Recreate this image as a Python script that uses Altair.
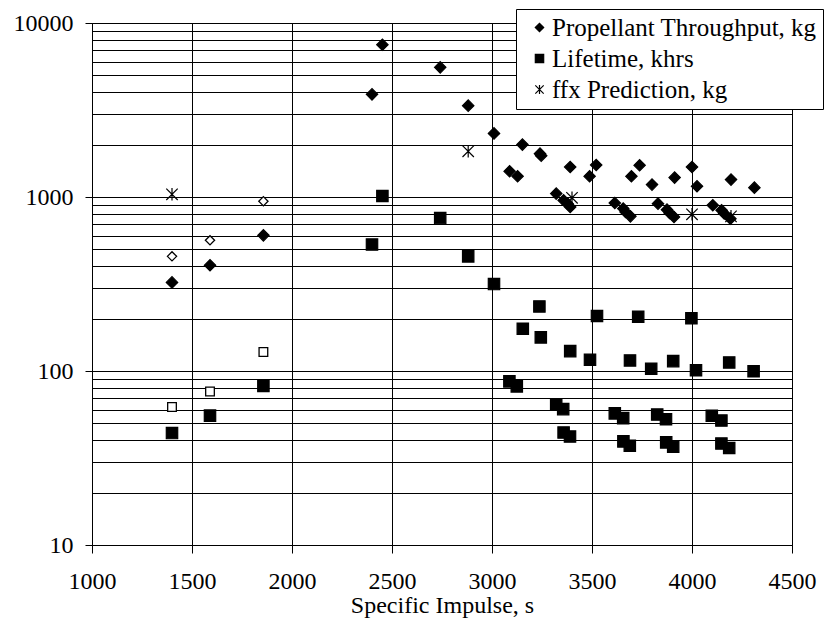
import altair as alt
import pandas as pd

SERIES = ["Propellant Throughput, kg", "Lifetime, khrs", "ffx Prediction, kg"]

# Propellant throughput, kg (filled diamonds)
prop_isp = [1400, 1590, 1857, 2400, 2452, 2741, 2881, 3010, 3088, 3128, 3152, 3240, 3246,
            3321, 3358, 3378, 3391, 3391, 3488, 3521, 3614, 3656, 3668, 3692, 3697, 3738,
            3800, 3830, 3875, 3888, 3910, 3913, 4000, 4025, 4104, 4148, 4161, 4192, 4195, 4312]
prop_kg = [323, 405, 602, 3890, 7500, 5560, 3350, 2320, 1405, 1315, 2000, 1775, 1728,
           1046, 957, 916, 876, 1487, 1315, 1527, 924, 858, 820, 774, 1315, 1521,
           1178, 916, 846, 810, 768, 1293, 1487, 1152, 896, 839, 804, 751, 1259, 1132]

# Lifetime, khrs (filled squares)
life_isp = [1400, 1590, 1857, 2400, 2452, 2741, 2881, 3010, 3087, 3124, 3154, 3237, 3244,
            3321, 3356, 3358, 3390, 3391, 3490, 3525, 3614, 3656, 3657, 3689, 3690, 3731,
            3796, 3826, 3870, 3871, 3906, 3906, 3997, 4020, 4099, 4147, 4147, 4186, 4186, 4308]
life_khr = [44, 55.4, 82, 533, 1013, 757, 456, 316, 87.2, 81.6, 175, 235, 156,
            64.3, 60.4, 44.3, 42.0, 130, 116, 207, 57.1, 53.6, 39.4, 37.2, 115, 205,
            103, 56.2, 52.8, 38.9, 36.7, 114, 201, 101, 55.3, 51.9, 38.3, 36.1, 112, 99.6]

# ffx prediction, kg (asterisks)
ffx_isp = [1400, 2881, 3400, 4000, 4195]
ffx_kg = [1036, 1830, 990, 795, 774]

# open markers (no legend entry)
open_isp = [1400, 1590, 1857]
open_prop_kg = [456, 564, 945]
open_life_khr = [62.1, 76.2, 128.6]

x_ticks = [1000, 1500, 2000, 2500, 3000, 3500, 4000, 4500]
y_grid = [m * 10 ** e for e in range(1, 4) for m in range(1, 10)] + [10000]

main = pd.concat([
    pd.DataFrame({"isp": prop_isp, "val": prop_kg, "series": SERIES[0]}),
    pd.DataFrame({"isp": life_isp, "val": life_khr, "series": SERIES[1]}),
    pd.DataFrame({"isp": ffx_isp, "val": ffx_kg, "series": SERIES[2]}),
], ignore_index=True)
open_d = pd.DataFrame({"isp": open_isp, "val": open_prop_kg})
open_s = pd.DataFrame({"isp": open_isp, "val": open_life_khr})

FONT = "Liberation Serif"
ASTER = "M-1,-1L1,1M1,-1L-1,1M0,-1.1L0,1.1"

xenc = alt.X("isp:Q",
             scale=alt.Scale(domain=[1000, 4500], nice=False, zero=False),
             axis=alt.Axis(values=x_ticks, title="Specific Impulse, s", format="d",
                           tickSize=8, tickColor="black", domainColor="black",
                           gridColor="black", gridWidth=1, gridOpacity=1,
                           labelFlush=False, labelBaseline="alphabetic", labelPadding=35,
                           titleBaseline="alphabetic", titleY=67))
yenc = alt.Y("val:Q",
             scale=alt.Scale(type="log", domain=[10, 10000], nice=False),
             axis=alt.Axis(values=y_grid, title=None, format="d", labelFlush=False,
                           labelExpr="indexof([10,100,1000,10000], datum.value) >= 0 ? datum.label : ''",
                           tickOpacity={"condition": {"test": "indexof([10,100,1000,10000], datum.value) >= 0", "value": 1}, "value": 0},
                           tickSize=7, tickColor="black", domainColor="black",
                           gridColor="black", gridWidth=1, gridOpacity=1,
                           labelPadding=12))

leg = alt.Legend(title=None, orient="none", legendX=424, legendY=-14)

points = alt.Chart(main).mark_point(strokeWidth=1.2, size=130, opacity=1).encode(
    x=xenc, y=yenc,
    shape=alt.Shape("series:N",
                    scale=alt.Scale(domain=SERIES, range=["diamond", "square", ASTER]),
                    legend=leg),
    fill=alt.Fill("series:N",
                  scale=alt.Scale(domain=SERIES, range=["black", "black", "white"]),
                  legend=leg),
    stroke=alt.Stroke("series:N",
                      scale=alt.Scale(domain=SERIES, range=["black", "black", "black"]),
                      legend=leg),
)

open_diamonds = alt.Chart(open_d).mark_point(shape="diamond", size=85, fill="white",
                                               stroke="black", strokeWidth=1.3, opacity=1,
                                               filled=True).encode(x="isp:Q", y="val:Q")
open_squares = alt.Chart(open_s).mark_point(shape="square", size=75, fill="white",
                                              stroke="black", strokeWidth=1.3, opacity=1,
                                              filled=True).encode(x="isp:Q", y="val:Q")

chart = alt.layer(points, open_diamonds, open_squares).properties(
    width=700, height=522,
    autosize=alt.AutoSizeParams(type="none"),
    padding={"left": 92, "top": 23, "right": 33, "bottom": 86},
    background="white",
).configure_axis(
    labelFont=FONT, titleFont=FONT, labelFontSize=24, titleFontSize=24,
    labelColor="black", titleColor="black", titleFontWeight="normal",
).configure_legend(
    fillColor="white", strokeColor="black", padding=6, labelOffset=0,
    symbolOffset=5, rowPadding=5, symbolSize=70, symbolStrokeWidth=1.2,
    labelFont=FONT, labelFontSize=25, labelColor="black", labelLimit=400,
).configure_view(stroke="black", strokeWidth=1)

chart.save("out.html", embed_options={"renderer": "svg", "actions": False})
